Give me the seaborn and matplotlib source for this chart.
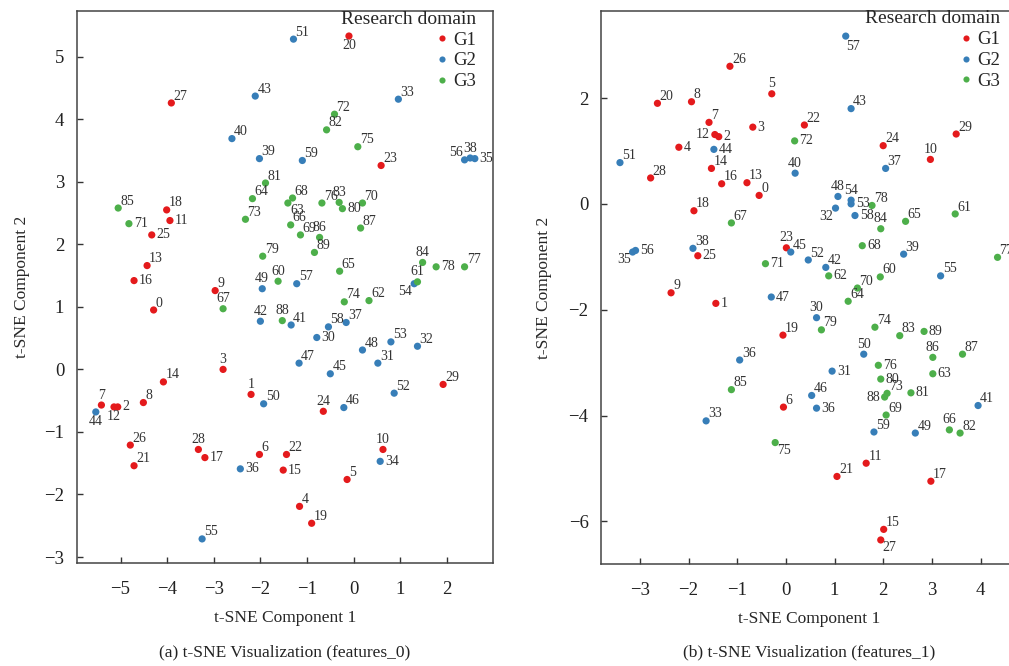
import matplotlib
matplotlib.use("Agg")
import matplotlib.pyplot as plt
import seaborn as sns
import pandas as pd

# ---------------- data ----------------
domains = ["G1", "G2", "G3"]
colors = ["#e41a1c", "#377eb8", "#4daf4a"]

left_labels = [str(i) for i in range(90)]
left_x = [-4.29, -2.20, -5.06, -2.80, -1.16, -0.14, -2.02, -5.41, -4.51, -2.97,
          0.63, -3.94, -5.14, -4.43, -4.08, -1.51, -4.71, -3.19, -4.01, -0.90,
          -0.10, -4.71, -1.44, 0.59, -0.65, -4.33, -4.79, -3.91, -3.33, 1.92,
          -0.79, 0.52, 1.37, 0.96, 0.57, 2.60, -2.43, -0.16, 2.50, -2.02,
          -2.61, -1.34, -2.00, -2.11, -5.53, -0.50, -0.21, -1.17, 0.19, -1.96,
          -1.93, -1.29, 0.87, 0.80, 1.30, -3.25, 2.38, -1.22, -0.54, -1.10,
          -1.62, 1.37, 0.33, -1.41, -2.17, -0.30, -1.35, -2.80, -1.31, -1.14,
          0.19, -4.82, -0.41, -2.32, -0.20, 0.09, -0.68, 2.38, 1.77, -1.95,
          -0.24, -1.89, -0.58, -0.31, 1.48, -5.05, -0.73, 0.15, -1.53, -0.84]
left_y = [0.95, -0.40, -0.60, 0.00, -2.19, -1.76, -1.36, -0.57, -0.53, 1.26,
          -1.28, 2.38, -0.60, 1.66, -0.20, -1.61, 1.42, -1.41, 2.55, -2.46,
          5.33, -1.54, -1.36, 3.26, -0.67, 2.15, -1.21, 4.26, -1.28, -0.24,
          0.51, 0.10, 0.37, 4.32, -1.47, 3.37, -1.59, 0.75, 3.38, 3.37,
          3.69, 0.71, 0.77, 4.37, -0.68, -0.07, -0.61, 0.10, 0.31, 1.29,
          -0.55, 5.28, -0.38, 0.44, 1.37, -2.71, 3.35, 1.37, 0.68, 3.34,
          1.41, 1.40, 1.10, 2.66, 2.73, 1.57, 2.31, 0.97, 2.74, 2.15,
          2.66, 2.33, 4.08, 2.40, 1.08, 3.56, 2.66, 1.64, 1.64, 1.81,
          2.57, 2.98, 3.83, 2.67, 1.71, 2.58, 2.11, 2.26, 0.78, 1.87]

right_labels = [str(i) for i in range(90)]
right_labels[34] = "36"
right_x = [-0.55, -1.44, -1.38, -0.68, -2.20, -0.29, -0.05, -1.58, -1.94, -2.36,
           2.97, 1.65, -1.46, -0.80, -1.53, 2.01, -1.32, 2.98, -1.89, -0.06,
           -2.64, 1.05, 0.38, 0.01, 2.00, -1.81, -1.15, 1.95, -2.78, 3.50,
           0.63, 0.95, 1.02, -1.64, -0.95, -3.15, 0.63, 2.05, -1.91, 2.42,
           0.19, 3.95, 0.82, 1.34, -1.48, 0.10, 0.53, -0.30, 1.07, 2.66,
           1.60, -3.41, 0.46, 1.34, 1.34, 3.18, -3.09, 1.23, 1.42, 1.81,
           1.94, 3.48, 0.88, 3.02, 1.28, 2.46, 3.36, -1.12, 1.57, 2.06,
           1.47, -0.42, 0.18, 2.08, 1.83, -0.22, 1.90, 4.35, 1.77, 0.73,
           1.95, 2.57, 3.58, 2.34, 1.95, -1.12, 3.02, 3.63, 2.03, 2.84]
right_y = [0.16, -1.88, 1.27, 1.45, 1.07, 2.08, -3.84, 1.54, 1.93, -1.68,
           0.84, -4.90, 1.31, 0.40, 0.67, -6.15, 0.38, -5.24, -0.13, -2.48,
           1.90, -5.15, 1.49, -0.83, 1.10, -0.98, 2.60, -6.35, 0.49, 1.32,
           -2.15, -3.16, -0.08, -4.10, -2.95, -0.91, -3.86, 0.67, -0.84, -0.95,
           0.58, -3.81, -1.20, 1.80, 1.03, -0.91, -3.62, -1.76, 0.14, -4.33,
           -2.84, 0.78, -1.06, 0.00, 0.07, -1.36, -0.88, 3.17, -0.22, -4.31,
           -1.38, -0.19, -1.36, -3.21, -1.84, -0.33, -4.27, -0.36, -0.79, -3.99,
           -1.59, -1.13, 1.19, -3.58, -2.33, -4.51, -3.05, -1.01, -0.03, -2.38,
           -3.31, -3.57, -4.33, -2.49, -0.47, -3.51, -2.90, -2.84, -3.65, -2.41]

captions = ["(a) t-SNE Visualization (features_0)", "(b) t-SNE Visualization (features_1)"]

# ---------------- label placement (style) ----------------
modes = {
    "ur": ((1.5, 0.3), "left", "bottom"),
    "r": ((3.5, 0), "left", "center"),
    "a": ((0, 2.5), "center", "bottom"),
    "b": ((0, -2.5), "center", "top"),
    "l": ((-3.5, 0), "right", "center"),
    "ul": ((-1.5, 0.3), "right", "bottom"),
    "bl": ((-1.5, -1), "right", "top"),
    "br": ((1.5, -1), "left", "top"),
    "bs": ((0, -2.5), "left", "top"),
}
left_place = {}
for i in [71, 11, 25, 16, 17, 36, 2, 35, 80, 78, 30, 34, 15]:
    left_place[i] = "r"
for i in [49, 67, 42, 3, 1, 7, 28, 38, 83, 86, 84, 61, 60, 88, 24, 10]:
    left_place[i] = "a"
for i in [12, 44, 20]:
    left_place[i] = "b"
left_place[56] = "ul"
left_place[54] = "bl"
left_place[63] = "br"

right_place = {}
for i in [2, 4, 44, 3, 25, 56, 1, 72, 53, 58, 71, 68, 62, 47, 89, 76, 31, 63, 80, 81, 36]:
    right_place[i] = "r"
for i in [12, 88]:
    right_place[i] = "l"
for i in [5, 10, 40, 48, 54, 84, 23, 30, 50, 86, 66]:
    right_place[i] = "a"
right_place[57] = "bs"
for i in [35, 32]:
    right_place[i] = "bl"
for i in [75, 27]:
    right_place[i] = "br"

# ---------------- style ----------------
sns.set_style("white")
plt.rcParams["font.family"] = ["Liberation Serif", "DejaVu Serif"]
plt.rcParams["axes.unicode_minus"] = True

W, H = 1009, 666
fig = plt.figure(figsize=(W / 100, H / 100), dpi=100)

def frac_box(l, r, t, b):
    return [l / W, 1 - b / H, (r - l) / W, (b - t) / H]

ax1 = fig.add_axes(frac_box(76.7, 493, 11, 563.3))
ax2 = fig.add_axes(frac_box(601, 1017, 10.7, 564.3))

def group_of(lbl):
    v = int(lbl)
    return domains[0] if v < 30 else (domains[1] if v < 60 else domains[2])

panels = [
    (ax1, left_labels, left_x, left_y, left_place, (-5.94, 2.99), (-3.1, 5.73),
     list(range(-5, 3)), list(range(-3, 6)), 10),
    (ax2, right_labels, right_x, right_y, right_place, (-3.80, 4.75), (-6.81, 3.65),
     list(range(-3, 5)), [-6, -4, -2, 0, 2], 12),
]

for k, (ax, labels, xs, ys, place, xl, yl, xt, yt, ylp) in enumerate(panels):
    df = pd.DataFrame({"x": xs, "y": ys, "label": labels,
                       "Research domain": [group_of(l) for l in labels]})
    sns.scatterplot(data=df, x="x", y="y", hue="Research domain",
                    hue_order=domains, palette=colors, s=27, linewidth=0,
                    ax=ax, zorder=3)
    for i, row in df.iterrows():
        (dx, dy), ha, va = modes[place.get(i, "ur")]
        ax.annotate(row["label"], (row["x"], row["y"]), xytext=(dx, dy),
                    textcoords="offset points", ha=ha, va=va, fontsize=10,
                    color="#333333", zorder=4)
    ax.set_xlim(*xl)
    ax.set_ylim(*yl)
    ax.set_xticks(xt)
    ax.set_yticks(yt)
    ax.set_xlabel("t-SNE Component 1", fontsize=12.5, labelpad=9)
    ax.set_ylabel("t-SNE Component 2", fontsize=12.5, labelpad=ylp)
    ax.tick_params(axis="both", which="major", direction="in", length=4.5,
                   width=1, labelsize=13.5, colors="#333333",
                   bottom=True, left=True, top=False, right=False)
    ax.tick_params(axis="x", pad=12.5)
    ax.tick_params(axis="y", pad=9)
    ax.tick_params(labelcolor="#222222")
    for sp in ax.spines.values():
        sp.set_visible(True)
        sp.set_color("#444444")
        sp.set_linewidth(1.1)
    ax.legend(title="Research domain", loc="upper right",
              bbox_to_anchor=(1 - 15 / 416.3, 1.004), frameon=False,
              fontsize=13.5, title_fontsize=14, alignment="right",
              handlelength=0.6, handletextpad=0.3, labelspacing=0.2,
              borderaxespad=0.0, borderpad=0.1, markerscale=0.85)
    pos = ax.get_position()
    fig.text(pos.x0 + pos.width / 2, 1 - 652 / H, captions[k], ha="center",
             va="center", fontsize=12.5, color="#222222")

fig.savefig("out.png", dpi=100)
